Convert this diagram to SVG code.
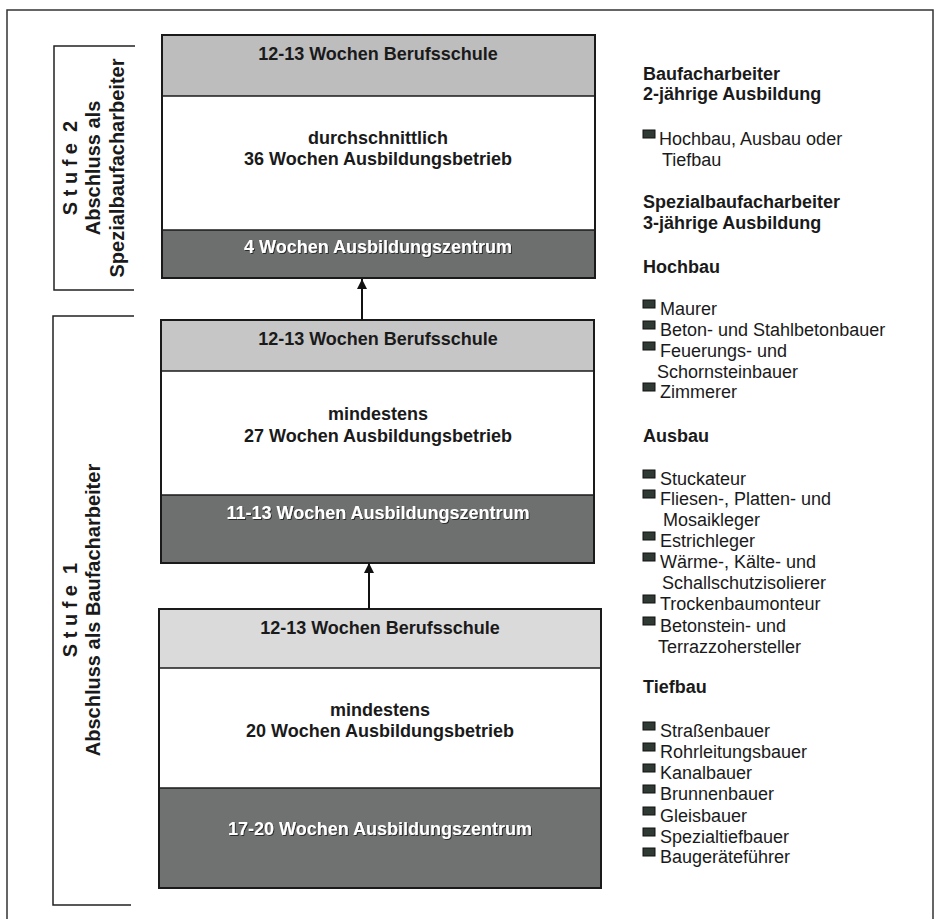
<svg xmlns="http://www.w3.org/2000/svg" width="939" height="919" viewBox="0 0 939 919">
<defs>
<style>
.t{font-family:"Liberation Sans",Arial,sans-serif;font-weight:bold;font-size:18px;fill:#1a1a1a;text-anchor:middle}
.w{font-family:"Liberation Sans",Arial,sans-serif;font-weight:bold;font-size:18px;fill:#ffffff;text-anchor:middle;filter:url(#sh)}
.v{font-family:"Liberation Sans",Arial,sans-serif;font-weight:bold;font-size:20px;fill:#1a1a1a;text-anchor:middle;white-space:pre}
.h{font-family:"Liberation Sans",Arial,sans-serif;font-weight:bold;font-size:18px;fill:#1a1a1a}
.r{font-family:"Liberation Sans",Arial,sans-serif;font-size:18px;fill:#1a1a1a}
.box{fill:none;stroke:#1a1a1a;stroke-width:2}
.sep{stroke:#1a1a1a;stroke-width:1.5}
.br{fill:none;stroke:#222;stroke-width:1.5}
.bul{fill:#2e3a33;stroke:#111;stroke-width:1}
.con{stroke:#111;stroke-width:2;fill:none}
</style>
<filter id="sh" x="-5%" y="-30%" width="110%" height="160%">
<feDropShadow dx="1" dy="1" stdDeviation="0.6" flood-color="#222" flood-opacity="0.9"/>
</filter>
<marker id="ah" viewBox="0 0 10 10" refX="10" refY="5" markerWidth="10" markerHeight="10" markerUnits="userSpaceOnUse" orient="auto">
<path d="M0,0 L10,5 L0,10 z" fill="#111"/>
</marker>
</defs>
<rect width="939" height="919" fill="#ffffff"/>
<path d="M7,925 V10 H933 V925" fill="none" stroke="#333" stroke-width="1.5"/>

<g id="stufe2">
<path class="br" d="M135,46 H54 V290 H134"/>
<text class="v" transform="translate(77,168) rotate(-90)">S t u f e  2</text>
<text class="v" transform="translate(100,168) rotate(-90)">Abschluss als</text>
<text class="v" transform="translate(124,168) rotate(-90)">Spezialbaufacharbeiter</text>
</g>
<g id="stufe1">
<path class="br" d="M134,316 H53 V905 H131"/>
<text class="v" transform="translate(77,610) rotate(-90)">S t u f e  1</text>
<text class="v" transform="translate(100,610) rotate(-90)">Abschluss als Baufacharbeiter</text>
</g>

<g id="box1">
<rect x="162" y="35" width="433" height="61" fill="#bdbdbd"/>
<rect x="162" y="96" width="433" height="134" fill="#ffffff"/>
<rect x="162" y="230" width="433" height="48" fill="#6d6e6e"/>
<line class="sep" x1="162" y1="96" x2="595" y2="96"/>
<line class="sep" x1="162" y1="230" x2="595" y2="230"/>
<rect class="box" x="162" y="35" width="433" height="243"/>
<text class="t" x="378" y="60">12-13 Wochen Berufsschule</text>
<text class="t" x="378" y="144">durchschnittlich</text>
<text class="t" x="378" y="165">36 Wochen Ausbildungsbetrieb</text>
<text class="w" x="378" y="253">4 Wochen Ausbildungszentrum</text>
</g>

<g id="box2">
<rect x="161" y="320" width="433" height="51" fill="#c6c6c6"/>
<rect x="161" y="371" width="433" height="124" fill="#ffffff"/>
<rect x="161" y="495" width="433" height="68" fill="#6e6f6f"/>
<line class="sep" x1="161" y1="371" x2="594" y2="371"/>
<line class="sep" x1="161" y1="495" x2="594" y2="495"/>
<rect class="box" x="161" y="320" width="433" height="243"/>
<text class="t" x="378" y="345">12-13 Wochen Berufsschule</text>
<text class="t" x="378" y="420">mindestens</text>
<text class="t" x="378" y="442">27 Wochen Ausbildungsbetrieb</text>
<text class="w" x="378" y="519">11-13 Wochen Ausbildungszentrum</text>
</g>

<g id="box3">
<rect x="159" y="609" width="442" height="59" fill="#dadada"/>
<rect x="159" y="668" width="442" height="120" fill="#ffffff"/>
<rect x="159" y="788" width="442" height="100" fill="#707171"/>
<line class="sep" x1="159" y1="668" x2="601" y2="668"/>
<line class="sep" x1="159" y1="788" x2="601" y2="788"/>
<rect class="box" x="159" y="609" width="442" height="279"/>
<text class="t" x="380" y="634">12-13 Wochen Berufsschule</text>
<text class="t" x="380" y="716">mindestens</text>
<text class="t" x="380" y="737">20 Wochen Ausbildungsbetrieb</text>
<text class="w" x="380" y="835">17-20 Wochen Ausbildungszentrum</text>
</g>

<g id="connectors">
<line class="con" x1="362" y1="320" x2="362" y2="279" marker-end="url(#ah)"/>
<line class="con" x1="369" y1="609" x2="369" y2="563" marker-end="url(#ah)"/>
</g>

<g id="legend">
<text class="h" x="643" y="80">Baufacharbeiter</text>
<text class="h" x="643" y="100">2-jährige Ausbildung</text>
<rect class="bul" x="643" y="130" width="12" height="8"/>
<text class="r" x="659" y="145">Hochbau, Ausbau oder</text>
<text class="r" x="662" y="166">Tiefbau</text>
<text class="h" x="643" y="208">Spezialbaufacharbeiter</text>
<text class="h" x="643" y="229">3-jährige Ausbildung</text>
<text class="h" x="643" y="273">Hochbau</text>
<rect class="bul" x="643" y="300" width="12" height="8"/>
<text class="r" x="660" y="315">Maurer</text>
<rect class="bul" x="643" y="321" width="12" height="8"/>
<text class="r" x="660" y="336">Beton- und Stahlbetonbauer</text>
<rect class="bul" x="643" y="342" width="12" height="8"/>
<text class="r" x="660" y="357">Feuerungs- und</text>
<text class="r" x="657" y="378">Schornsteinbauer</text>
<rect class="bul" x="643" y="383" width="12" height="8"/>
<text class="r" x="660" y="398">Zimmerer</text>
<text class="h" x="643" y="442">Ausbau</text>
<rect class="bul" x="643" y="470" width="12" height="8"/>
<text class="r" x="660" y="485">Stuckateur</text>
<rect class="bul" x="643" y="490" width="12" height="8"/>
<text class="r" x="660" y="505">Fliesen-, Platten- und</text>
<text class="r" x="663" y="526">Mosaikleger</text>
<rect class="bul" x="643" y="532" width="12" height="8"/>
<text class="r" x="660" y="547">Estrichleger</text>
<rect class="bul" x="643" y="553" width="12" height="8"/>
<text class="r" x="660" y="568">Wärme-, Kälte- und</text>
<text class="r" x="662" y="589">Schallschutzisolierer</text>
<rect class="bul" x="643" y="595" width="12" height="8"/>
<text class="r" x="660" y="610">Trockenbaumonteur</text>
<rect class="bul" x="643" y="617" width="12" height="8"/>
<text class="r" x="660" y="632">Betonstein- und</text>
<text class="r" x="658" y="653">Terrazzohersteller</text>
<text class="h" x="643" y="693">Tiefbau</text>
<rect class="bul" x="643" y="722" width="12" height="8"/>
<text class="r" x="660" y="737">Straßenbauer</text>
<rect class="bul" x="643" y="743" width="12" height="8"/>
<text class="r" x="660" y="758">Rohrleitungsbauer</text>
<rect class="bul" x="643" y="764" width="12" height="8"/>
<text class="r" x="660" y="779">Kanalbauer</text>
<rect class="bul" x="643" y="785" width="12" height="8"/>
<text class="r" x="660" y="800">Brunnenbauer</text>
<rect class="bul" x="643" y="807" width="12" height="8"/>
<text class="r" x="660" y="822">Gleisbauer</text>
<rect class="bul" x="643" y="828" width="12" height="8"/>
<text class="r" x="660" y="843">Spezialtiefbauer</text>
<rect class="bul" x="643" y="848" width="12" height="8"/>
<text class="r" x="660" y="863">Baugeräteführer</text>
</g>
</svg>
